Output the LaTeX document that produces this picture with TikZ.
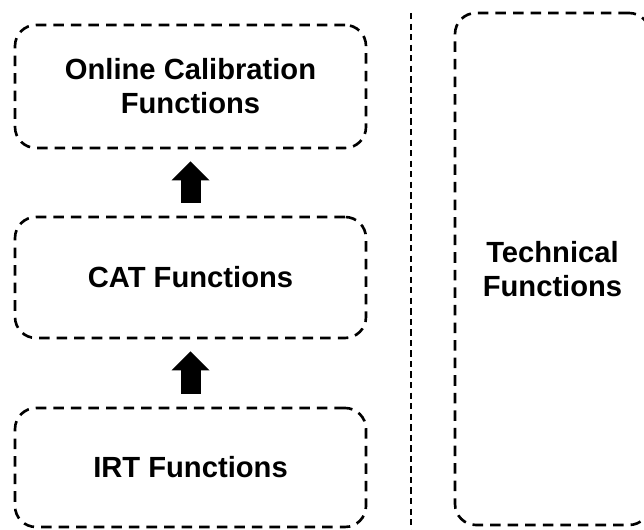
\documentclass[tikz,border=0pt]{standalone}
\usepackage{fontspec}
\setmainfont{Liberation Sans}
\usetikzlibrary{arrows.meta, positioning}

\begin{document}
\begin{tikzpicture}[
  fn/.style = {draw, line width=1.5pt, dash pattern=on 6pt off 4pt, rounded corners=0.42cm, align=center, font=\fontsize{16.6}{19.4}\selectfont\bfseries, inner sep=0pt},
  lay/.style = {fn, minimum width=7.02cm, minimum height=2.42cm},
  up/.style = {line width=0.4cm, -{Triangle[width=0.76cm, length=0.38cm, line width=0pt]}, shorten <=0.26cm, shorten >=0.24cm}]
  \useasboundingbox (0,0) rectangle (12.88,10.6);
  \clip (0,0) rectangle (12.88,10.6);

  \node[lay, minimum height=2.46cm] (online) at (3.81,8.87) {Online Calibration\\Functions};
  \node[lay] (cat) at (3.81,5.05) {CAT Functions};
  \node[lay, minimum height=2.38cm] (irt) at (3.81,1.25) {IRT Functions};
  \node[fn, minimum width=3.9cm, minimum height=10.24cm] (tech) at (11.05,5.22) {Technical\\Functions};

  \coordinate (top) at (8.22,10.34);
  \coordinate (bot) at (8.22,0);
  \draw[line width=1.1pt, dash pattern=on 3.6pt off 2.4pt] (top) -- (bot);

  \path[up]
  (irt) edge (cat)
  (cat) edge (online);
\end{tikzpicture}
\end{document}
